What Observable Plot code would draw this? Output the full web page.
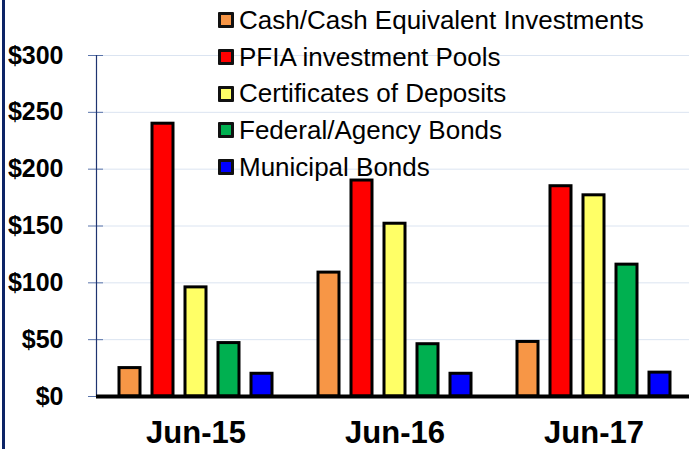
<!DOCTYPE html>
<html><head>
<meta charset="utf-8">
<script src="https://cdn.jsdelivr.net/npm/d3@7"></script>
<script src="https://cdn.jsdelivr.net/npm/@observablehq/plot@0.6"></script>
<style>
body{margin:0;overflow:hidden;background:#fff;font-family:"Liberation Sans",Arial,sans-serif}
#wrap{position:relative;width:689px;height:449px;overflow:hidden}
#chart{position:absolute;left:0;top:0}
#border{position:absolute;left:2px;top:0;width:3px;height:449px;background:#0c2366}
#legend{position:absolute;left:218px;top:2px;font-size:26px;color:#000}
.row{display:flex;align-items:center;height:36.7px;white-space:nowrap}
.sw{width:10px;height:10px;border:3px solid #111;margin-right:5px;flex:none;border-radius:1px}
</style></head>
<body><div id="wrap"><div id="chart"></div><div id="legend"></div><div id="border"></div></div>
<script>
const groups = ["Jun-15", "Jun-16", "Jun-17"];
const series = ["Cash/Cash Equivalent Investments", "PFIA investment Pools", "Certificates of Deposits", "Federal/Agency Bonds", "Municipal Bonds"];
const colors = ["#f79646", "#ff0000", "#ffff66", "#00b050", "#0000ff"];
const cash = [25, 109, 48];
const pfia = [240, 190, 185];
const cds = [96, 152, 177];
const federal = [47, 46, 116];
const municipal = [20, 20, 21];
const yTicks = [0, 50, 100, 150, 200, 250, 300];

const values = [cash, pfia, cds, federal, municipal];
const data = groups.flatMap((g, i) => series.map((s, j) => ({group: g, series: s, value: values[j][i]})));

const chart = Plot.plot({
  width: 689, height: 449,
  marginLeft: 96, marginRight: -4, marginTop: 55, marginBottom: 53,
  style: {fontFamily: "'Liberation Sans', Arial, sans-serif", background: "transparent", overflow: "visible"},
  fx: {domain: groups, padding: 0, label: null, axis: null},
  x: {domain: series, paddingInner: 0.364, paddingOuter: 0.697, axis: null},
  y: {domain: [0, 300], axis: null},
  color: {domain: series, range: colors},
  marks: [
    Plot.gridY(yTicks, {stroke: "#dbe4f1", strokeOpacity: 1, strokeWidth: 1}),
    Plot.axisY(yTicks, {anchor: "left", tickSize: 8, tickPadding: 25, tickFormat: d => "$" + d, fontSize: 25, fontWeight: "bold", fill: "#000", stroke: "#5a74aa", label: null}),
    Plot.axisY(yTicks, {anchor: "left", tickSize: -7, tickFormat: () => "", stroke: "#5a74aa", label: null}),
    Plot.frame({anchor: "left", facetAnchor: "left", stroke: "#1f3470", strokeWidth: 1.2}),
    Plot.barY(data, {fx: "group", x: "series", y: "value", fill: "series", stroke: "#000", strokeWidth: 3}),
    Plot.ruleY([0], {stroke: "#000", strokeWidth: 4}),
    Plot.axisFx({anchor: "bottom", tickSize: 0, tickPadding: 24, fontSize: 31, fontWeight: "bold", fill: "#000", label: null})
  ]
});
document.getElementById("chart").appendChild(chart);

const legend = document.getElementById("legend");
series.forEach((s, j) => {
  const row = document.createElement("div");
  row.className = "row";
  const sw = document.createElement("span");
  sw.className = "sw";
  sw.style.background = colors[j];
  const t = document.createElement("span");
  t.textContent = s;
  row.appendChild(sw);
  row.appendChild(t);
  legend.appendChild(row);
});
</script>
</body></html>
